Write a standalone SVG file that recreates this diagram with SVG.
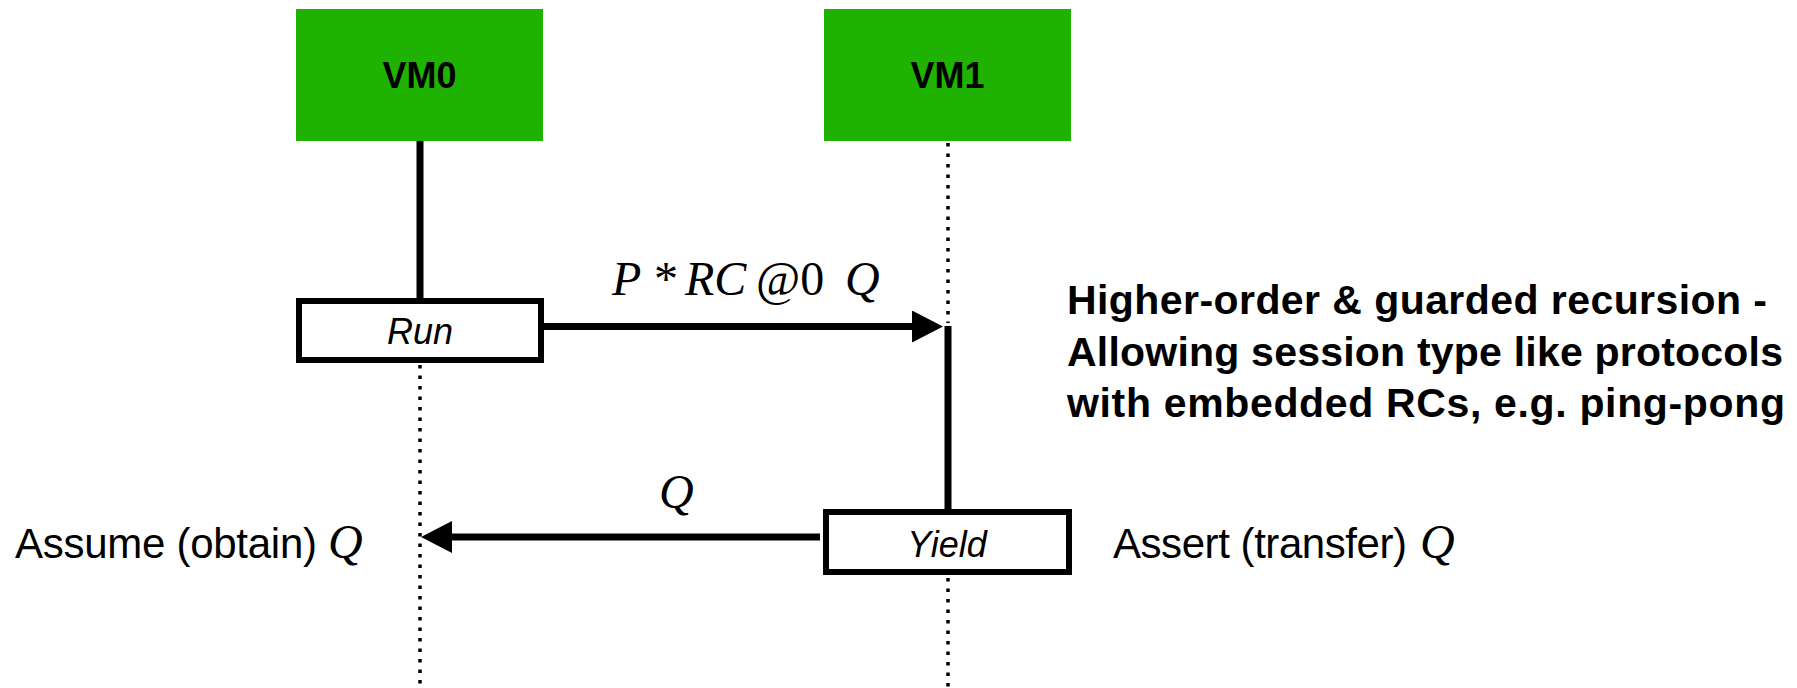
<svg xmlns="http://www.w3.org/2000/svg" width="1797" height="688" viewBox="0 0 1797 688">
  <style>
    .actor { fill: #1FB200; }
    .actor-label { font-family: "Liberation Sans", Arial, sans-serif; font-weight: bold; font-size: 36px; fill: #000; text-anchor: middle; }
    .act-box { fill: #fff; stroke: #000; stroke-width: 6; }
    .act-label { font-family: "Liberation Sans", Arial, sans-serif; font-style: italic; font-size: 36px; fill: #000; text-anchor: middle; }
    .life { stroke: #000; stroke-width: 3.5; stroke-dasharray: 3.5 7; fill: none; }
    .solid { stroke: #000; stroke-width: 7; fill: none; }
    .msg { stroke: #000; stroke-width: 7; fill: none; }
    .math { font-family: "Liberation Serif", "Times New Roman", serif; font-style: italic; font-size: 48px; fill: #000; }
    .up { font-style: normal; }
    .plain { font-family: "Liberation Sans", Arial, sans-serif; font-size: 42px; fill: #000; }
    .note { font-family: "Liberation Sans", Arial, sans-serif; font-weight: bold; font-size: 41px; fill: #000; }
  </style>
  <defs>
    <marker id="arrow" markerUnits="userSpaceOnUse" markerWidth="32" markerHeight="33" viewBox="0 0 32 33" refX="0" refY="16" orient="auto">
      <path d="M0,0 L31,16 L0,32 Z" fill="#000"/>
    </marker>
  </defs>

  <rect width="1797" height="688" fill="#fff"/>

  <g id="connectors">
    <!-- lifelines -->
    <line class="solid" x1="420" y1="140" x2="420" y2="299"/>
    <line class="life" x1="420" y1="365" x2="420" y2="688"/>
    <line class="life" x1="948" y1="143" x2="948" y2="323"/>
    <line class="solid" x1="948" y1="326" x2="948" y2="510"/>
    <line class="life" x1="948" y1="578" x2="948" y2="688"/>
    <!-- messages -->
    <line class="msg" x1="543" y1="326.5" x2="912" y2="326.5" marker-end="url(#arrow)"/>
    <line class="msg" x1="820" y1="537" x2="452" y2="537" marker-end="url(#arrow)"/>
    <text class="math" y="295"><tspan x="612">P</tspan><tspan class="up" x="654">*</tspan><tspan x="685">RC</tspan><tspan class="up" x="756">@0</tspan><tspan x="845">Q</tspan></text>
    <text class="math" x="659" y="508">Q</text>
  </g>

  <g id="vm0">
    <rect class="actor" x="296" y="9" width="247" height="132"/>
    <text class="actor-label" x="419.5" y="88">VM0</text>
  </g>

  <g id="vm1">
    <rect class="actor" x="824" y="9" width="247" height="132"/>
    <text class="actor-label" x="947.5" y="88">VM1</text>
  </g>

  <g id="run">
    <rect class="act-box" x="299" y="301" width="242" height="59"/>
    <text class="act-label" x="420" y="344">Run</text>
  </g>

  <g id="yield">
    <rect class="act-box" x="826" y="512" width="243" height="60"/>
    <text class="act-label" x="947" y="557">Yield</text>
  </g>

  <g id="assume">
    <text class="plain" x="15" y="558" textLength="302" lengthAdjust="spacing">Assume (obtain)</text>
    <text class="math" x="328" y="558">Q</text>
  </g>

  <g id="assert">
    <text class="plain" x="1113" y="558" textLength="294" lengthAdjust="spacing">Assert (transfer)</text>
    <text class="math" x="1420" y="558">Q</text>
  </g>

  <g id="note">
    <text class="note" x="1067" y="314" textLength="700" lengthAdjust="spacing">Higher-order &amp; guarded recursion -</text>
    <text class="note" x="1067" y="366" textLength="716" lengthAdjust="spacing">Allowing session type like protocols</text>
    <text class="note" x="1067" y="417" textLength="718" lengthAdjust="spacing">with embedded RCs, e.g. ping-pong</text>
  </g>
</svg>
